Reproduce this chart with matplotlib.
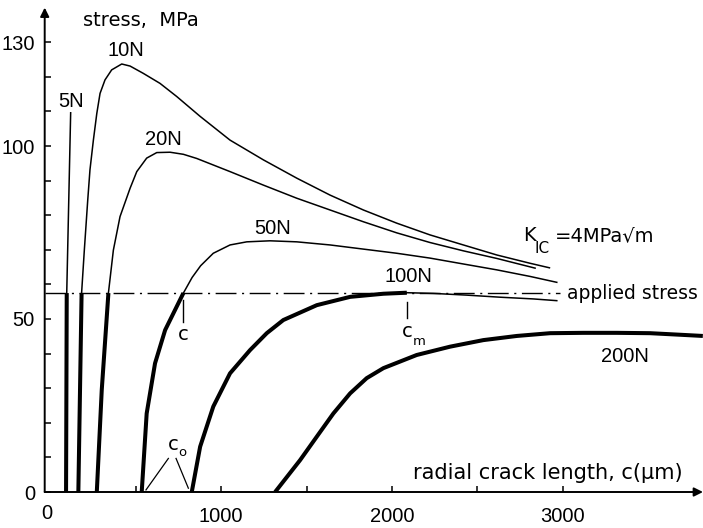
import matplotlib
matplotlib.use("Agg")
import matplotlib.pyplot as plt

plt.rcParams['font.family'] = ['DejaVu Sans']
NUMFONT = ['Liberation Sans', 'DejaVu Sans']

# ---------------- data ----------------
applied_stress = 57.5

x_5N = [92, 96, 119]
y_5N = [0, 57.5, 109.6]

x_10N = [164, 183, 199, 219, 232, 252, 272, 291, 320, 359, 418, 467, 544, 642,
         740, 876, 1052, 1247, 1443, 1638, 1833, 2028, 2223, 2418, 2614, 2809, 2922]
y_10N = [0, 57.5, 69.9, 84.4, 93.1, 101.7, 109.4, 115.2, 119.1, 122.0, 123.7, 123.1,
         121.0, 118.1, 114.3, 108.6, 101.7, 96.0, 90.7, 85.8, 81.5, 77.7, 74.3,
         71.4, 68.5, 66.1, 64.8]

x_20N = [272, 301, 340, 369, 408, 467, 506, 564, 623, 701, 779, 857, 1052, 1247,
         1443, 1638, 1833, 2028, 2223, 2418, 2614, 2838]
y_20N = [0, 29.5, 57.5, 69.9, 79.6, 87.8, 92.6, 96.5, 98.1, 98.2, 97.6, 96.4, 92.6,
         88.7, 84.9, 81.5, 78.1, 74.9, 72.1, 69.7, 67.5, 64.7]

x_50N = [535, 564, 613, 672, 730, 779, 830, 880, 954, 1052, 1150, 1286, 1443, 1638,
         1833, 2028, 2223, 2418, 2614, 2809, 2965]
y_50N = [0, 22.7, 37.2, 46.8, 52.6, 57.5, 62.0, 65.4, 69.0, 71.4, 72.3, 72.6, 72.3,
         71.4, 70.2, 69.0, 67.6, 65.9, 64.2, 62.3, 60.6]

x_100N = [828, 877, 954, 1052, 1169, 1267, 1364, 1560, 1755, 1950, 2087, 2242,
          2438, 2633, 2828, 2965]
y_100N = [0, 13.1, 24.7, 34.3, 41.0, 45.9, 49.7, 54.0, 56.4, 57.3, 57.6, 57.4,
          56.9, 56.3, 55.8, 55.3]

x_200N = [1316, 1462, 1560, 1657, 1755, 1852, 1950, 2145, 2340, 2535, 2731, 2926,
          3121, 3316, 3511, 3706, 3820]
y_200N = [0, 9.2, 16.0, 22.7, 28.5, 32.9, 35.8, 39.6, 42.0, 43.9, 45.1, 45.9,
          46.0, 46.0, 45.9, 45.4, 45.1]

x_ticks = [500, 1000, 1500, 2000, 2500, 3000]
x_ticklabels = ['', '1000', '', '2000', '', '3000']
y_ticks = [0, 10, 20, 30, 40, 50, 60, 70, 80, 90, 100, 110, 120, 130]
y_ticklabels = ['0', '', '', '', '', '50', '', '', '', '', '100', '', '', '130']

curves = [
    (x_5N, y_5N, '5N', 124, 113.0),
    (x_10N, y_10N, '10N', 443, 127.5),
    (x_20N, y_20N, '20N', 663, 101.9),
    (x_50N, y_50N, '50N', 1304, 76.3),
    (x_100N, y_100N, '100N', 2094, 62.2),
    (x_200N, y_200N, '200N', 3365, 39.2),
]

# ---------------- figure ----------------
W, H = 703, 528
fig = plt.figure(figsize=(W / 100, H / 100), dpi=100)
ax = fig.add_axes([44.7 / W, (H - 492) / H, (W - 44.7) / W, (492 - 7.6) / H])
ax.set_xlim(-33, 3821)
ax.set_ylim(0, 140)

thin = 1.1
thick = 2.9

for xs, ys, lab, lx, ly in curves:
    # thick (stable) branch up to where the curve first reaches applied stress
    idx = None
    for i, v in enumerate(ys):
        if v >= applied_stress - 0.05:
            idx = i
            break
    if idx is None:
        ax.plot(xs, ys, color='black', lw=thick, solid_capstyle='butt',
                solid_joinstyle='round')
    else:
        ax.plot(xs[:idx + 1], ys[:idx + 1], color='black', lw=thick,
                solid_capstyle='butt', solid_joinstyle='round')
        ax.plot(xs[idx:], ys[idx:], color='black', lw=thin,
                solid_joinstyle='round')
    ax.text(lx, ly, lab, fontsize=14.5, ha='center', va='center',
            family=NUMFONT)

# applied stress (dash-dot)
ax.plot([-33, 2985], [applied_stress, applied_stress], color='black', lw=1.0,
        dashes=(15, 4, 1.5, 4))

# c, c_m markers
ax.plot([779, 779], [55.5, 49.0], color='black', lw=1.0)
ax.text(778, 45.5, 'c', fontsize=14, ha='center', va='center')
ax.plot([2087, 2087], [55.0, 50.2], color='black', lw=1.0)
ax.text(2090, 46.3, 'c', fontsize=14, ha='center', va='center')
ax.text(2160, 43.6, 'm', fontsize=9.5, ha='center', va='center')

# c_o annotation
ax.plot([691, 560], [9.7, 0.6], color='black', lw=0.9)
ax.plot([736, 808], [9.7, 1.1], color='black', lw=0.9)
ax.text(722, 13.6, 'c', fontsize=14, ha='center', va='center')
ax.text(770, 11.4, 'o', fontsize=9.5, ha='center', va='center')

# K_IC label
ax.text(2768, 74.1, 'K', fontsize=14, ha='left', va='center')
ax.text(2836, 70.4, 'IC', fontsize=11, ha='left', va='center')
ax.text(2952, 74.1, '=4MPa\u221am', fontsize=14, ha='left', va='center')

# applied stress label
ax.text(3024, 57.3, 'applied stress', fontsize=13.5, ha='left', va='center')

# axis titles
ax.text(191, 136.4, 'stress,  MPa', fontsize=14, ha='left', va='center')
ax.text(2125, 5.6, 'radial crack length, c(\u03bcm)', fontsize=15,
        ha='left', va='center')

# axes: spines replaced by arrows
for s in ax.spines.values():
    s.set_visible(False)
ax.annotate('', xy=(0, 1.0), xytext=(0, 0), xycoords='axes fraction',
            arrowprops=dict(arrowstyle='-|>', lw=1.4, color='black',
                            mutation_scale=13, shrinkA=0, shrinkB=0))
ax.annotate('', xy=(1.0, 0), xytext=(0, 0), xycoords='axes fraction',
            arrowprops=dict(arrowstyle='-|>', lw=1.4, color='black',
                            mutation_scale=13, shrinkA=0, shrinkB=0))

ax.set_yticks(y_ticks)
ax.set_yticklabels(y_ticklabels, family=NUMFONT)
ax.set_xticks(x_ticks)
ax.set_xticklabels(x_ticklabels, family=NUMFONT)
ax.tick_params(axis='both', direction='in', length=4.5, width=1.1,
               labelsize=14.5)
ax.tick_params(axis='y', pad=7)
ax.tick_params(axis='x', pad=11)
# x "0" label at the origin
ax.text(-18, -3.5, '0', fontsize=14.5, ha='center', va='top',
        family=NUMFONT, clip_on=False)
ax.patch.set_visible(False)

fig.savefig('out.png', dpi=100)
